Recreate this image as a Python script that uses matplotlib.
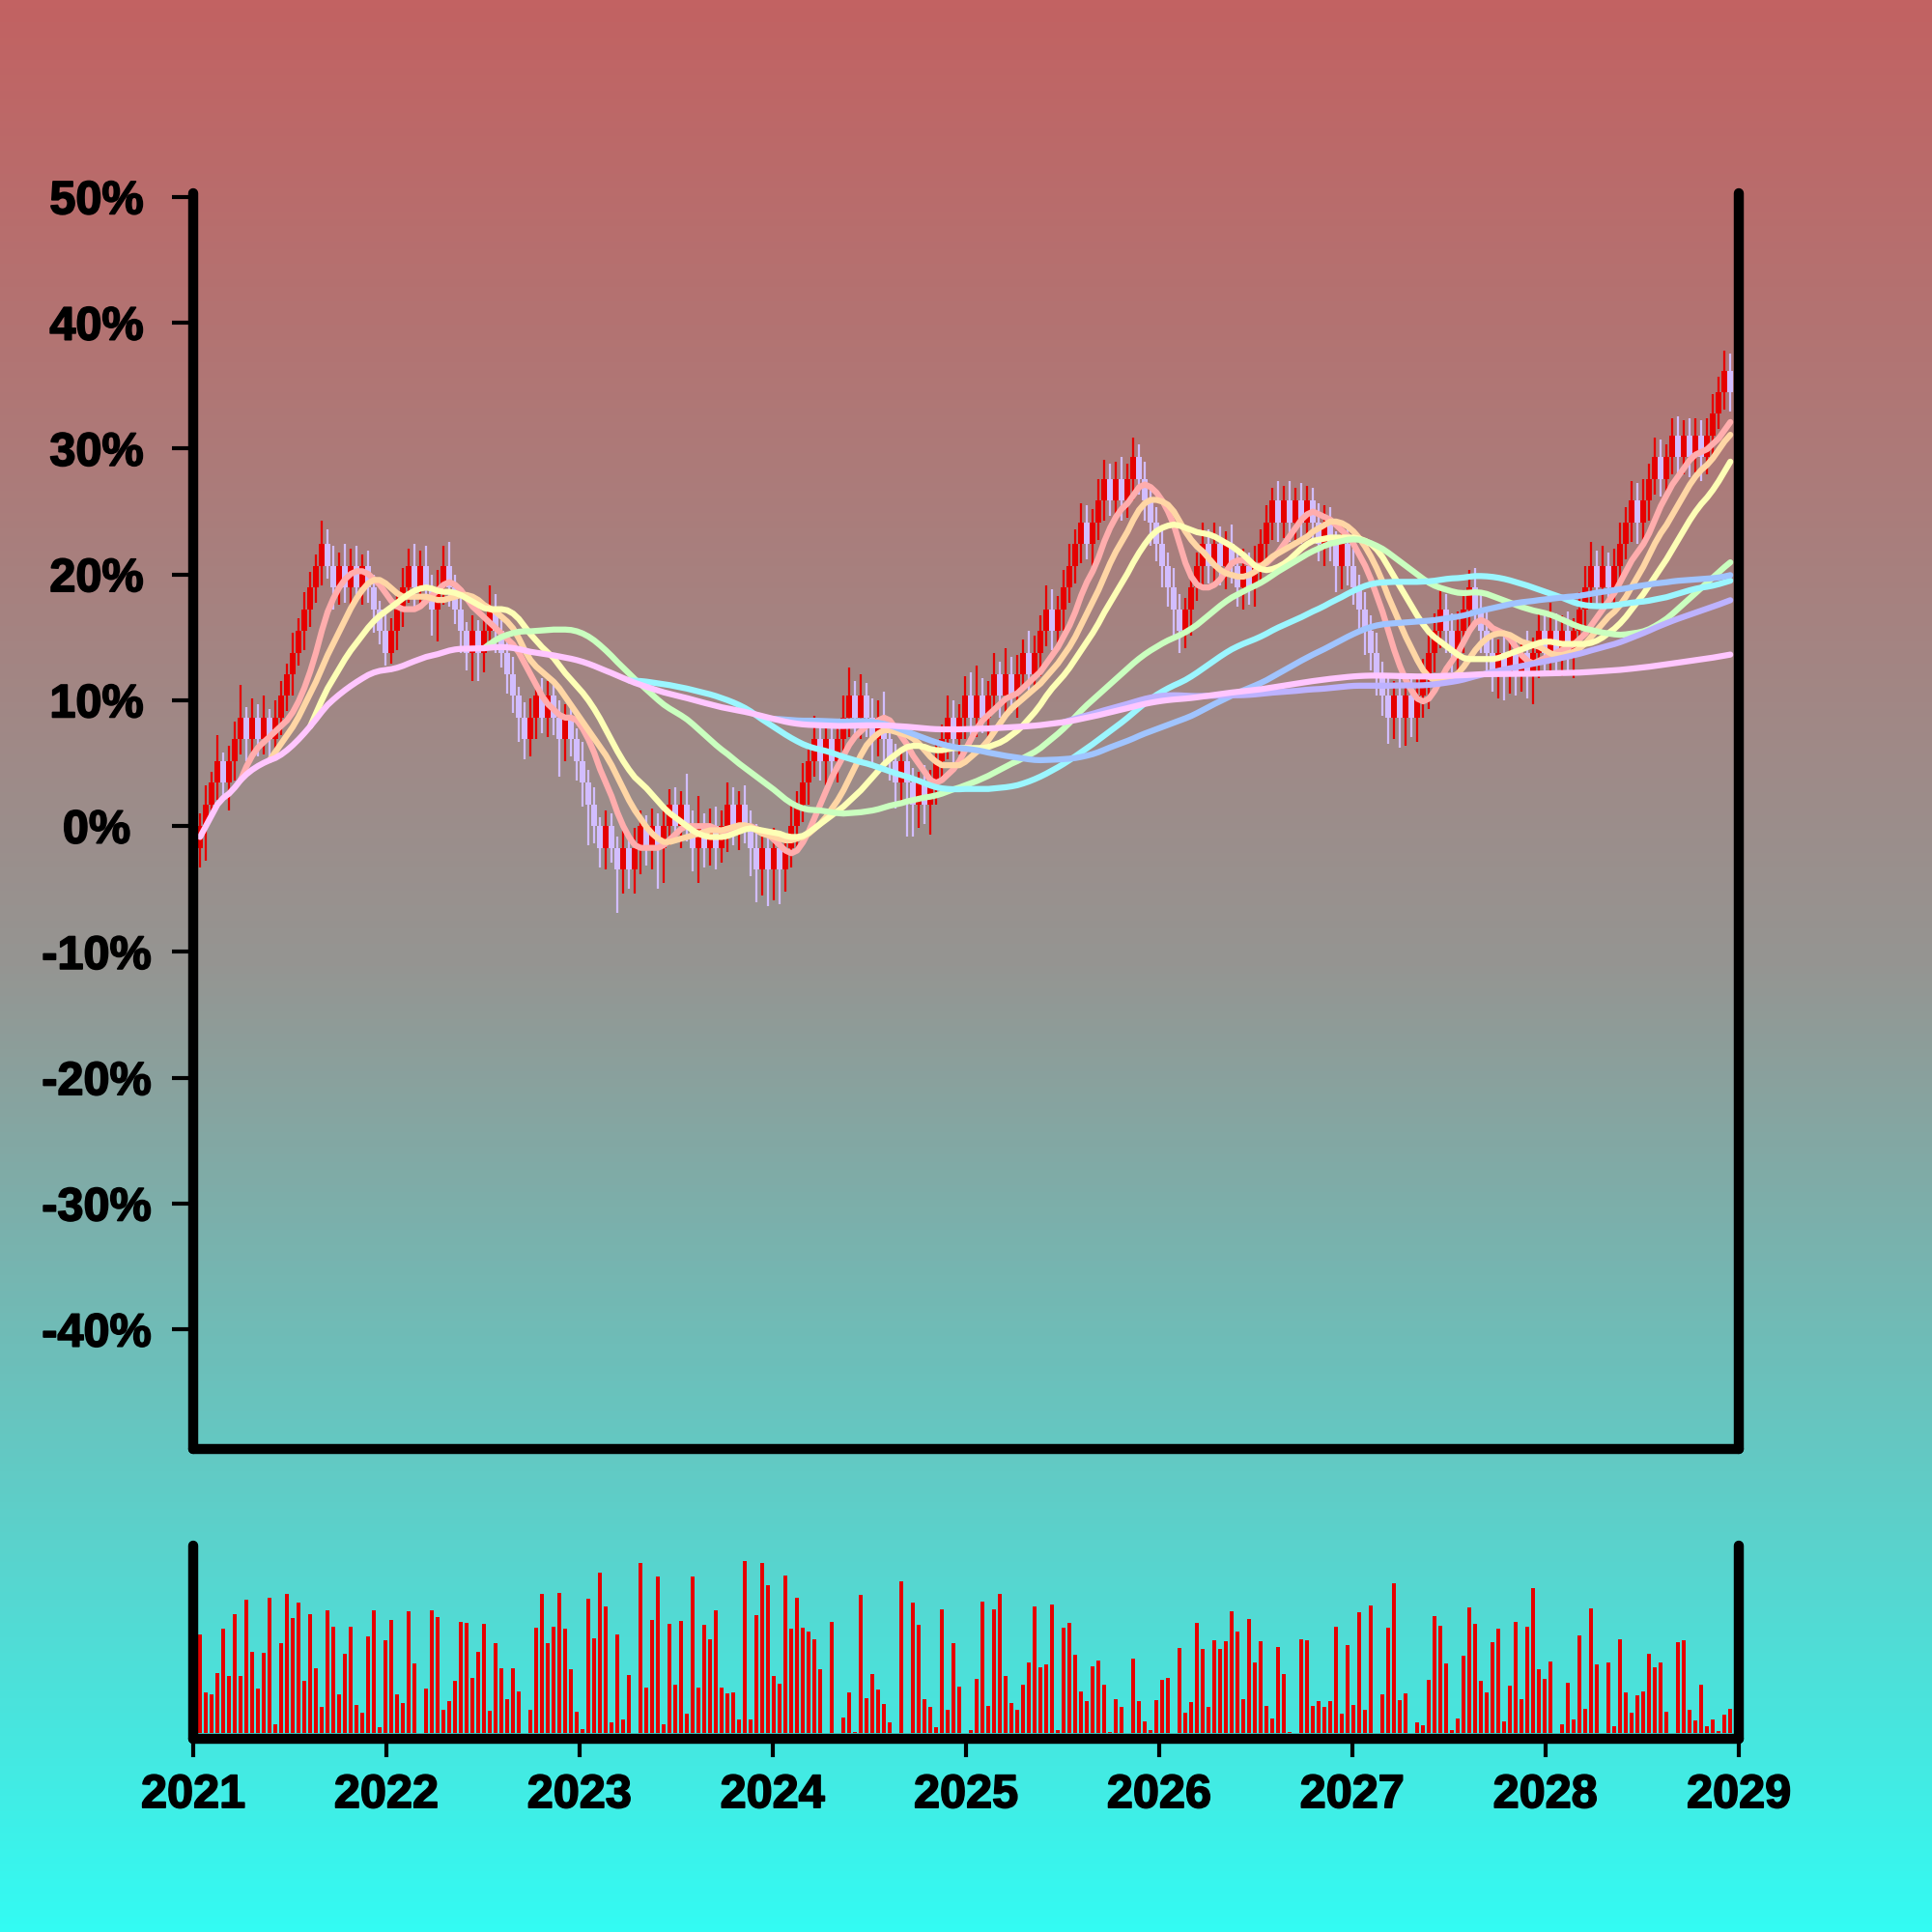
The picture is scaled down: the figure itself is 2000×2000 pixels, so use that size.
import matplotlib
matplotlib.use("Agg")
import matplotlib.pyplot as plt
import matplotlib.dates as mdates
import matplotlib.patheffects as pe
import numpy as np
import pandas as pd
from matplotlib.colors import LinearSegmentedColormap
from matplotlib.ticker import FuncFormatter

plt.rcParams["font.family"] = ["Liberation Sans", "DejaVu Sans"]
plt.rcParams["font.weight"] = "bold"

# --- data ------------------------------------------------------------------
FIRST_DATE = "2021-01-14"
LAST_DATE = "2028-12-16"
FIRST_OPEN = 57

# closes (price units, one step = ~1.72 % of the first close)
CLOSES = [
    58, 59, 60, 61, 60, 61, 62, 63, 62, 63, 62, 63, 62, 63, 64, 65, 66, 67, 68, 69, 70, 71,
    70, 69, 70, 69, 70, 69, 70, 69, 68, 67, 66, 67, 68, 69, 70, 69, 70, 69, 68, 69, 70, 69,
    68, 67, 66, 67, 66, 67, 68, 67, 66, 65, 64, 63, 62,
    63, 64, 63, 64, 63, 62, 63, 62, 61, 60, 59, 58, 57, 58, 57, 56, 57, 56, 57, 58, 57, 58,
    57, 58, 59, 58, 59, 58, 57, 58, 57,
    58, 57, 58, 59, 58, 59, 58, 57, 56, 57, 56, 57, 56, 57, 58, 59, 60, 61, 62, 61, 62, 61,
    62, 63, 64, 63, 64, 63, 62, 63, 62, 61, 60, 61, 60, 59, 60, 59, 60, 61,
    62, 63, 62, 63, 64, 63, 64, 63, 64, 65, 64, 65, 64, 65, 66, 65, 66, 67, 68, 67, 68, 69,
    70, 71, 72, 71, 72, 73, 74, 73, 74, 73, 74, 75, 74, 73, 72, 71, 70, 69, 68, 67, 68, 69,
    70, 71, 70, 71,
    70, 71, 70, 69, 70, 69, 70, 71, 72, 73,
    72, 73, 72, 73, 72, 73, 72, 71, 72, 71, 70, 71, 70, 69,
    68, 67, 66, 65, 64, 63, 64, 63, 64, 63, 64, 65, 66, 67, 68, 67, 66, 67, 68, 69, 68, 67,
    66, 65, 66, 65, 66, 65, 66, 65, 66, 67, 66, 67, 66, 67, 66, 67, 68, 69, 70, 69, 70, 69,
    70, 71, 72, 73, 72, 73, 74, 75, 74, 75, 76, 75, 76, 75, 76, 75, 76, 77, 78, 79, 78,
]

# wick lengths beyond the body, in tenths of a price unit
UP_WICK = [
    6, 9, 5, 12, 4, 7, 8, 15, 5, 9, 6, 10, 4, 8, 7, 5, 9, 6, 8, 7,
    5, 11, 7, 9, 6, 10, 8, 9, 5, 7, 6, 4, 8, 6, 7, 9, 8, 10, 7, 9,
    6, 8, 9, 11, 6, 5, 4, 7, 5, 6, 11, 7, 5, 6, 8, 4, 7, 9, 6, 8,
    7, 5, 8, 6, 7, 5, 9, 6, 8, 4, 7, 6, 5, 8, 6, 9, 7, 5, 8, 6,
    9, 7, 8, 6, 14, 7, 14, 6, 8, 9, 7, 10, 8, 6, 9, 7, 11, 8, 6, 9,
    8, 7, 10, 6, 9, 8, 11, 7, 9, 8, 6, 10, 13, 7, 10, 6, 9, 8, 12, 7,
    8, 6, 9, 7, 5, 8, 6, 9, 7, 10, 8, 6, 9, 11, 14, 8, 7, 10, 6, 12,
    8, 9, 6, 10, 8, 7, 11, 9, 6, 8, 10, 7, 9, 8, 6, 10, 9, 7, 8, 10,
    7, 9, 6, 8, 5, 7, 8, 6, 9, 7, 5, 8, 6, 10, 7, 10, 8, 6, 9, 7,
    8, 6, 9, 7, 8, 6, 9, 7, 9, 6, 8, 7, 6, 9, 8, 7, 6, 9, 7, 8,
    6, 8, 7, 9, 6, 8, 7, 10, 6, 9, 8, 7, 9, 8, 10, 7, 8, 9, 6, 8,
    9, 7, 10, 8, 6, 9, 7, 8, 6, 10, 7, 8, 9, 13, 8, 7, 9, 6, 8, 10,
    11, 7, 9, 6, 8, 10, 7, 9, 8, 10, 7, 9, 8, 6, 8, 9, 7, 8, 8, 7,
    8, 9, 7, 9, 8,
]
DOWN_WICK = [
    9, 16, 7, 8, 6, 13, 9, 7, 10, 6, 8, 7, 9, 6, 8, 7, 10, 6, 9, 8,
    7, 9, 6, 10, 8, 7, 9, 6, 8, 7, 11, 6, 6, 5, 9, 8, 7, 9, 10, 8,
    12, 15, 8, 9, 7, 10, 8, 13, 13, 9, 8, 10, 7, 9, 8, 11, 9, 8, 10, 7,
    9, 8, 17, 10, 8, 9, 11, 19, 8, 9, 10, 7, 20, 11, 9, 11, 12, 8, 10, 19,
    16, 9, 8, 10, 7, 11, 16, 9, 8, 10, 7, 12, 9, 11, 8, 13, 15, 12, 17, 14,
    16, 10, 9, 11, 8, 10, 7, 9, 11, 8, 10, 7, 9, 8, 10, 9, 11, 8, 10, 9,
    12, 10, 25, 15, 11, 9, 14, 10, 8, 9, 11, 7, 10, 8, 9, 7, 11, 8, 10, 9,
    8, 10, 7, 9, 8, 11, 7, 9, 8, 10, 7, 8, 9, 7, 10, 8, 9, 7, 8, 9,
    8, 10, 7, 9, 11, 8, 10, 9, 12, 10, 8, 12, 6, 9, 8, 10, 9, 11, 8, 9,
    10, 8, 9, 7, 10, 8, 9, 7, 9, 8, 10, 7, 9, 8, 10, 8, 12, 11, 9, 8,
    9, 11, 8, 10, 9, 12, 10, 14, 13, 9, 11, 10, 16, 9, 8, 10, 9, 8, 10, 9,
    8, 10, 9, 8, 11, 12, 9, 10, 8, 11, 14, 12, 10, 9, 8, 11, 9, 12, 8, 9,
    9, 8, 10, 7, 9, 8, 7, 9, 10, 8, 9, 7, 8, 9, 8, 10, 8, 9, 7, 11,
    8, 9, 7, 8, 9,
]

VOLUMES = [
    305, 125, 119, 187, 324, 177, 369, 176, 413, 251, 139, 249, 420, 27, 278, 433, 357, 404, 161, 369,
    202, 80, 380, 329, 119, 245, 331, 86, 63, 299, 380, 18, 289, 350, 120, 92, 378, 217, 0, 138,
    380, 359, 71, 99, 162, 345, 341, 170, 252, 339, 68, 279, 200, 105, 202, 128, 0, 71, 326, 433,
    279, 329, 434, 325, 197, 66, 12, 417, 293, 499, 393, 33, 305, 43, 179, 0, 527, 141, 351, 487,
    26, 339, 150, 349, 60, 485, 141, 335, 290, 382, 141, 123, 125, 42, 535, 41, 365, 529,
    459, 177, 153, 489, 324, 420, 326, 314, 291, 199, 0, 345, 0, 48, 125, 2, 428, 108, 182, 134,
    91, 34, 0, 471, 0, 404, 337, 104, 80, 17, 383, 73, 278, 143, 0, 9, 169, 407, 83, 383,
    431, 176, 94, 72, 149, 218, 394, 205, 213, 399, 8, 326, 342, 242, 129, 98, 206, 226, 151, 2,
    106, 81, 0, 230, 100, 35, 8, 102, 164, 170, 0, 265, 62, 96, 341, 260, 81, 287, 260, 284,
    378, 315, 105, 353, 218, 284, 83, 44, 267, 182, 2, 0, 291, 288, 84, 98, 81, 98,
    330, 60, 273, 86, 375, 71, 396, 0, 119, 327, 465, 102, 123, 0, 33, 25, 165, 362, 333, 215,
    8, 45, 240, 389, 339, 163, 126, 282, 324, 35, 146, 345, 105, 329, 449, 197, 168, 222, 0, 27,
    155, 42, 302, 74, 386, 212, 0, 219, 20, 291, 127, 63, 117, 128, 247, 204, 219, 65, 0, 281,
    287, 71, 40, 149, 22, 43, 6, 56, 74,
]

MA_WINDOWS = [8, 13, 20, 50, 75, 100, 150]
MA_COLORS = ["#ffadad", "#ffd6a5", "#fdffb6", "#caffbf", "#9bf6ff", "#a0c4ff", "#bdb2ff"]
CUM_COLOR = "#ffc6ff"
UP_COLOR = "#e60000"
DOWN_COLOR = "#d2bdff"
BG_TOP = "#c26262"
BG_MID = "#959592"
BG_BOTTOM = "#33fbf3"

Y_TICKS = [-40, -30, -20, -10, 0, 10, 20, 30, 40, 50]
YEARS = list(range(2021, 2030))


def main() -> None:
    dates = pd.date_range(FIRST_DATE, LAST_DATE, periods=len(CLOSES))
    x = mdates.date2num(dates)
    step = x[1] - x[0]

    close = np.asarray(CLOSES, dtype=float)
    open_ = np.r_[FIRST_OPEN, close[:-1]]
    top = np.maximum(open_, close)
    bot = np.minimum(open_, close)
    high = top + np.asarray(UP_WICK) / 10
    low = bot - np.asarray(DOWN_WICK) / 10

    base = close[0]

    def pct(p):
        return (np.asarray(p, dtype=float) / base - 1) * 100

    up = close >= open_
    colors = np.where(up, UP_COLOR, DOWN_COLOR)

    fig = plt.figure(figsize=(20, 20), dpi=100)

    # vertical gradient background
    bg = fig.add_axes([0, 0, 1, 1], zorder=-10)
    cmap = LinearSegmentedColormap.from_list("bg", [BG_TOP, BG_MID, BG_BOTTOM])
    bg.imshow(np.linspace(0, 1, 512).reshape(-1, 1), cmap=cmap, aspect="auto",
              extent=[0, 1, 0, 1], origin="upper")
    bg.axis("off")

    ax = fig.add_axes([0.1, 0.25, 0.8, 0.65])
    vax = fig.add_axes([0.1, 0.1, 0.8, 0.1])
    for a in (ax, vax):
        a.set_facecolor("none")
        a.set_xlim(mdates.date2num(pd.Timestamp("2021-01-01")),
                   mdates.date2num(pd.Timestamp("2029-01-01")))
        a.spines["top"].set_visible(False)
        for side in ("left", "right", "bottom"):
            a.spines[side].set_linewidth(7.5)
            a.spines[side].set_capstyle("round")
            a.spines[side].set_zorder(5)

    # candles
    ax.vlines(x, pct(low), pct(high), colors=colors, lw=1.6, zorder=2)
    ax.bar(x, pct(top) - pct(bot), bottom=pct(bot), width=step,
           color=colors, linewidth=0, zorder=3)

    # moving averages (of the body midpoint), then the running mean on top
    mid = pd.Series(pct((open_ + close) / 2))
    for w, c in zip(MA_WINDOWS, MA_COLORS):
        ax.plot(x, mid.rolling(w).mean(), color=c, lw=4.5, zorder=4,
                solid_capstyle="round")
    ax.plot(x, mid.expanding().mean(), color=CUM_COLOR, lw=4.5, zorder=4,
            solid_capstyle="round")

    heavy = [pe.withStroke(linewidth=1.2, foreground="black")]

    ax.set_ylim(-49.5, 50.3)
    ax.set_yticks(Y_TICKS)
    ax.yaxis.set_major_formatter(FuncFormatter(lambda v, _: f"{v:.0f}%"))
    ax.tick_params(axis="y", length=16, width=3, pad=56, labelsize=35)
    for lab in ax.get_yticklabels():
        lab.set_horizontalalignment("center")
        lab.set_path_effects(heavy)
    ax.tick_params(axis="x", bottom=False, labelbottom=False)

    # volume
    vax.bar(x, VOLUMES, width=step * 0.63, color=UP_COLOR, linewidth=0)
    vax.set_ylim(-18, 582)
    vax.set_yticks([])
    vax.set_xticks([mdates.date2num(pd.Timestamp(f"{y}-01-01")) for y in YEARS])
    vax.set_xticklabels([str(y) for y in YEARS])
    vax.tick_params(axis="x", length=14, width=3, pad=12, labelsize=35)
    for lab in vax.get_xticklabels():
        lab.set_path_effects(heavy)

    fig.patch.set_edgecolor("#33fbf3")
    fig.patch.set_linewidth(3)
    fig.savefig("out.png", dpi=100, edgecolor=fig.get_edgecolor())
    plt.close(fig)


if __name__ == "__main__":
    main()
